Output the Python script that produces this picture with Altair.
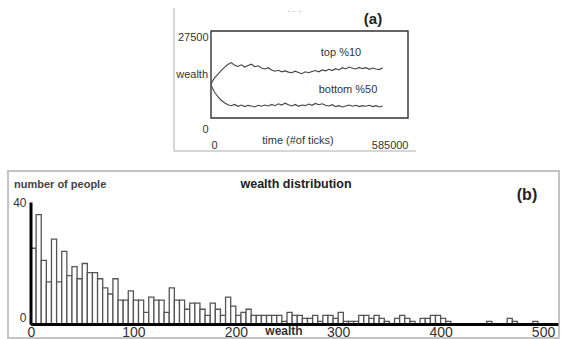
import altair as alt
import pandas as pd

# ---------------- Panel (a): wealth of top 10% / bottom 50% over time ----------------
time_k = [0, 10, 20, 30, 40, 50, 60, 70, 80, 90, 100, 110, 120, 130, 140, 150, 160,
          170, 180, 190, 200, 210, 220, 230, 240, 250, 260, 270, 280, 290, 300, 310,
          320, 330, 340, 350, 360, 370, 380, 390, 400, 410, 420, 430, 440, 450, 460,
          470, 480, 490, 500, 510]
top10 = [10800, 12600, 13800, 15000, 16000, 16900, 17500, 16700, 16300, 16800,
         16100, 16600, 17000, 16200, 16500, 15800, 15500, 15900, 15200, 14800,
         15100, 14600, 14900, 14500, 14300, 14800, 14400, 14000, 14600, 14300,
         14700, 15000, 14600, 15200, 14900, 15400, 15000, 15600, 15200, 15900,
         15500, 16100, 15700, 15500, 16000, 15600, 15900, 15400, 15800, 15500,
         15300, 15900]
bottom50 = [10400, 8200, 6800, 5600, 4800, 4200, 3900, 4300, 3700, 4100,
            3600, 4000, 3800, 3500, 4000, 3700, 4100, 3800, 4300, 3900,
            4500, 4100, 4700, 4200, 3800, 4300, 3700, 4100, 3900, 4400,
            4000, 4600, 4200, 4500, 4000, 3800, 4200, 3600, 3900, 3500,
            3800, 4100, 3700, 4000, 3600, 3900, 3700, 4000, 3600, 3900,
            3500, 3800]
a_x_ticks = [0, 585000]
a_y_ticks = [0, 27500]
a_series = ["top %10", "bottom %50"]

# ---------------- Panel (b): wealth distribution histogram ----------------
bin_width = 5
counts = [25, 36, 21, 14, 28, 14, 24, 16, 19, 15,
          20, 17, 17, 15, 12, 10, 15, 8, 8, 11,
          8, 8, 4, 9, 8, 8, 4, 12, 8, 8,
          5, 7, 7, 5, 3, 7, 5, 3, 9, 6,
          3, 4, 5, 3, 3, 3, 3, 3, 3, 1,
          4, 3, 3, 2, 2, 3, 1, 3, 3, 2,
          4, 1, 1, 1, 3, 3, 2, 3, 2, 1,
          0, 2, 3, 2, 1, 0, 2, 2, 3, 3,
          2, 1, 0, 0, 0, 0, 0, 0, 0, 1,
          0, 0, 0, 2, 1, 0, 0, 0, 1, 0]
b_x_ticks = [0, 100, 200, 300, 400, 500]
b_y_ticks = [0, 40]
b_x_axis_end = 515

FONT = "Liberation Sans"
TXT = "#333333"

frame_df = pd.DataFrame({"k": [0]})


def label(text, x, y, size=11, weight="normal", align="center", color=TXT, baseline="middle"):
    return alt.Chart(frame_df).mark_text(
        text=text, font=FONT, fontSize=size, fontWeight=weight, align=align,
        baseline=baseline, color=color
    ).encode(x=alt.value(x), y=alt.value(y))


# ---------- panel (a) ----------
WA, HA = 408, 143
OX = 166  # left edge of the (a) frame inside this view
n = len(time_k)
dfa = pd.DataFrame({
    "t": [v * 1000 for v in time_k] * 2,
    "w": top10 + bottom50,
    "s": [a_series[0]] * n + [a_series[1]] * n,
})
xa = alt.Scale(domain=[-602809, 608756], nice=False, zero=False)
ya = alt.Scale(domain=[-10431, 34770], nice=False, zero=False)

lines_a = alt.Chart(dfa).mark_line(color="#444444", strokeWidth=1.1).encode(
    x=alt.X("t:Q", scale=xa, title=None,
            axis=alt.Axis(values=a_x_ticks, orient="bottom", offset=-33, domain=False,
                          ticks=False, tickSize=0, grid=False, labelPadding=21,
                          labelFontSize=11, labelFont=FONT, labelColor=TXT,
                          labelFlush=False, labelOverlap=False, format="d",
                          labelAlign=alt.condition("datum.value == 0", alt.value("left"), alt.value("right")))),
    y=alt.Y("w:Q", scale=ya, title=None,
            axis=alt.Axis(values=a_y_ticks, orient="left", offset=-203, domain=False,
                          ticks=False, tickSize=0, grid=False, labelPadding=3,
                          labelFontSize=11, labelFont=FONT, labelColor=TXT,
                          labelFlush=False, labelOverlap=False, format="d",
                          labelBaseline="top",
                          labelOffset=alt.condition("datum.value == 0", alt.value(5), alt.value(1)))),
    detail="s:N",
)

box_df = pd.DataFrame({"x0": [a_x_ticks[0]], "x1": [a_x_ticks[1]],
                       "y0": [a_y_ticks[0]], "y1": [a_y_ticks[1]]})
box_a = alt.Chart(box_df).mark_rect(fillOpacity=0, stroke="#333333", strokeWidth=1.4).encode(
    x=alt.X("x0:Q", scale=xa), x2="x1:Q",
    y=alt.Y("y0:Q", scale=ya), y2="y1:Q",
)

frame_left = alt.Chart(frame_df).mark_rule(color="#c8c8c8", strokeWidth=1.5).encode(
    x=alt.value(OX), y=alt.value(0), y2=alt.value(HA))
frame_bottom = alt.Chart(frame_df).mark_rule(color="#c8c8c8", strokeWidth=1.5).encode(
    x=alt.value(OX), x2=alt.value(WA), y=alt.value(HA))

texts_a = [
    label("(a)", OX + 199, 11, size=15, weight="bold", color="#222222"),
    label("· · ·", OX + 120, 3, size=9, color="#999999"),
    label("wealth", OX + 34, 67, size=11, align="right"),
    label("time (#of ticks)", OX + 124, 133, size=11),
    label(a_series[0], OX + 167, 45, size=11),
    label(a_series[1], OX + 174, 82, size=11),
]

panel_a = alt.layer(frame_left, frame_bottom, box_a, lines_a, *texts_a).properties(
    width=WA, height=HA)

# ---------- panel (b) ----------
WB, HB = 551, 167
dfb = pd.DataFrame({
    "start": [i * bin_width for i in range(len(counts))],
    "end": [(i + 1) * bin_width for i in range(len(counts))],
    "count": counts,
    "base": [0] * len(counts),
})
xb = alt.Scale(domain=[-22.46, 515.6], nice=False, zero=False)
yb = alt.Scale(domain=[-4.43, 50.33], nice=False, zero=False)

bars_b = alt.Chart(dfb).mark_rect(fill="white", stroke="#555555", strokeWidth=1.3).encode(
    x=alt.X("start:Q", scale=xb, title=None,
            axis=alt.Axis(values=b_x_ticks, orient="bottom", offset=-14, domain=False,
                          ticks=False, tickSize=0, grid=False, labelPadding=1,
                          labelFontSize=14, labelFont=FONT, labelColor=TXT,
                          labelFlush=False, labelOverlap=False, format="d")),
    x2="end:Q",
    y=alt.Y("count:Q", scale=yb, title=None,
            axis=alt.Axis(values=b_y_ticks, orient="left", offset=-23, domain=False,
                          ticks=False, tickSize=0, grid=False, labelPadding=5,
                          labelFontSize=12, labelFont=FONT, labelColor=TXT,
                          labelFlush=False, labelOverlap=False, format="d",
                          labelBaseline=alt.condition("datum.value == 0", alt.value("bottom"), alt.value("middle")))),
    y2="base:Q",
)

axis_df = pd.DataFrame({"x0": [0], "x1": [b_x_axis_end], "y0": [0], "y1": [b_y_ticks[1]]})
xaxis_line = alt.Chart(axis_df).mark_rule(color="black", strokeWidth=3).encode(
    x=alt.X("x0:Q", scale=xb), x2="x1:Q", y=alt.Y("y0:Q", scale=yb))
yaxis_line = alt.Chart(axis_df).mark_rule(color="black", strokeWidth=3).encode(
    x=alt.X("x0:Q", scale=xb), y=alt.Y("y0:Q", scale=yb), y2="y1:Q")

texts_b = [
    label("number of people", 6, 14, size=11, weight="bold", align="left", color="#444444"),
    label("wealth distribution", 288, 13, size=12.5, weight="bold", color="#222222"),
    label("(b)", 519, 24, size=16, weight="bold", color="#222222"),
    label("wealth", 276, 160, size=12, weight="bold"),
]

panel_b = alt.layer(bars_b, xaxis_line, yaxis_line, *texts_b).properties(
    width=WB, height=HB,
    view=alt.ViewBackground(stroke="#c4c4c4", strokeWidth=2))

chart = alt.vconcat(panel_a, panel_b, spacing=20, bounds="flush").properties(
    padding={"left": 7, "top": 7, "right": 0, "bottom": 0},
    background="white",
).configure_view(strokeWidth=0)

chart.save("out.html", embed_options={"renderer": "svg", "actions": False})
